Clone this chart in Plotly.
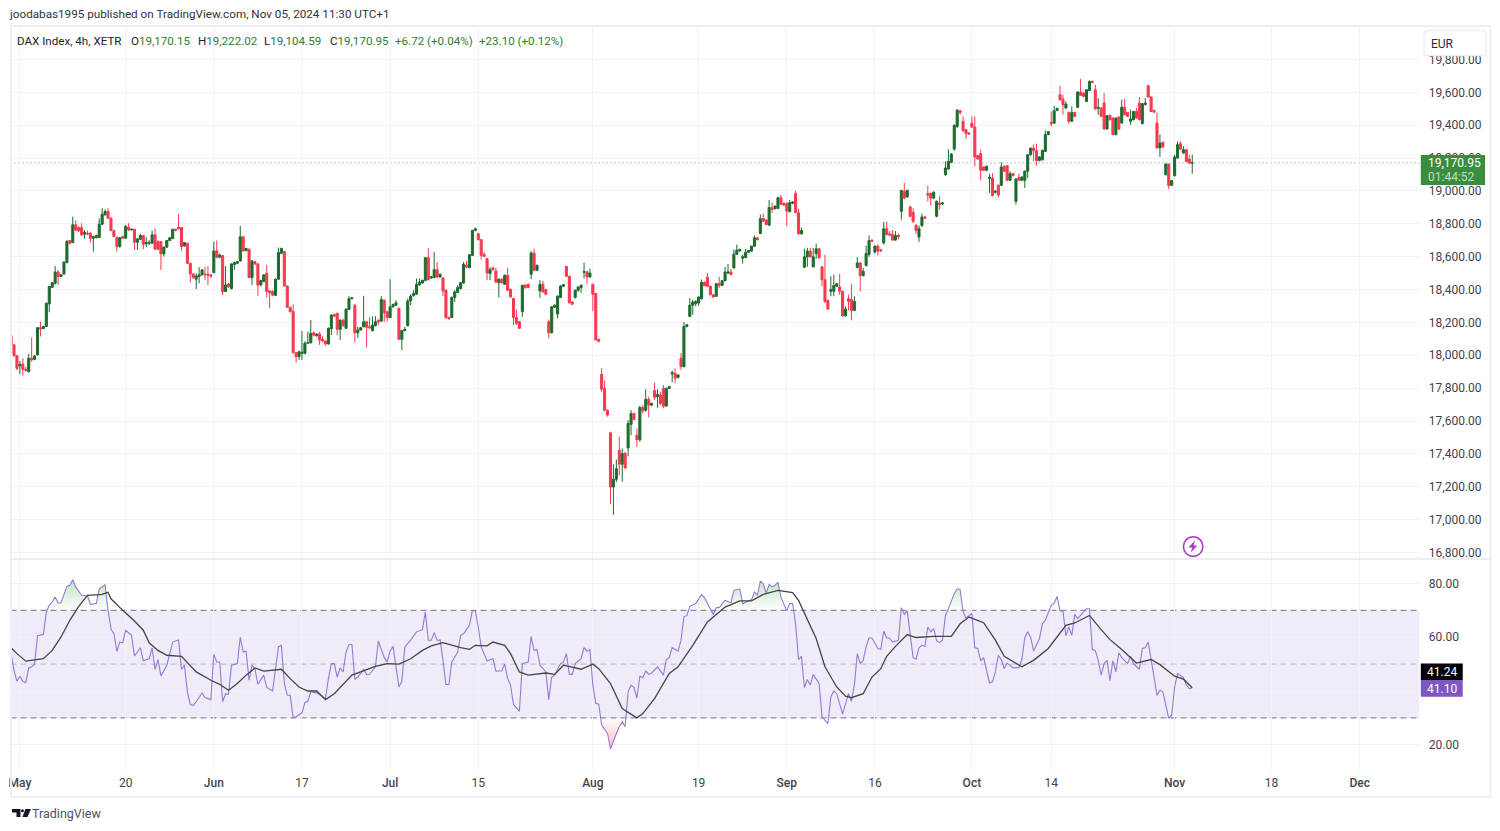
import plotly.graph_objects as go

W, H = 1500, 831

opens = [
18120,18063,17998,17937,17947,17915,17900,17982,17975,18002,
18168,18162,18175,18313,18414,18438,18507,18479,18495,18564,
18698,18686,18794,18777,18777,18737,18743,18743,18712,18717,
18717,18798,18855,18875,18834,18759,18716,18662,18723,18713,
18780,18763,18767,18688,18706,18729,18678,18682,18682,18733,
18692,18692,18617,18658,18698,18710,18767,18780,18777,18666,
18682,18560,18495,18463,18479,18490,18495,18493,18489,18503,
18635,18597,18607,18388,18434,18406,18552,18560,18574,18721,
18637,18645,18473,18570,18556,18428,18449,18499,18392,18388,
18365,18463,18621,18631,18422,18292,18266,18016,17992,18012,
18012,18073,18077,18137,18120,18130,18097,18087,18069,18162,
18249,18255,18158,18214,18164,18279,18345,18305,18137,18154,
18174,18204,18174,18150,18180,18214,18208,18335,18265,18230,
18295,18305,18285,18097,18150,18180,18331,18364,18372,18428,
18440,18456,18594,18470,18473,18521,18477,18471,18396,18230,
18230,18352,18382,18406,18440,18548,18533,18608,18760,18739,
18703,18614,18588,18497,18531,18513,18442,18463,18432,18487,
18402,18345,18230,18204,18265,18428,18432,18493,18622,18517,
18392,18432,18400,18204,18137,18293,18251,18352,18420,18541,
18481,18325,18352,18396,18412,18505,18509,18477,18432,18376,
18097,17884,17799,17666,17528,17198,17245,17422,17337,17402,
17436,17580,17646,17514,17487,17683,17666,17732,17697,17785,
17748,17758,17799,17691,17799,17886,17890,17866,17982,17931,
18175,18237,18304,18314,18318,18344,18444,18475,18420,18369,
18359,18436,18426,18454,18501,18507,18532,18615,18636,18591,
18595,18627,18634,18664,18715,18741,18833,18823,18792,18898,
18892,18894,18959,18925,18925,18874,18925,18986,18868,18739,
18536,18599,18634,18538,18619,18648,18538,18460,18334,18389,
18389,18420,18416,18389,18240,18344,18338,18273,18534,18562,
18485,18546,18613,18701,18628,18664,18642,18684,18770,18739,
18735,18701,18731,18876,18998,18964,18903,18870,18790,18720,
18790,18842,18984,18984,18957,18846,18927,18921,19099,19134,
19174,19255,19393,19488,19424,19373,19353,19413,19389,19215,
19227,19146,19126,19077,19079,18992,19035,19034,19150,19154,
19065,19105,18937,19083,19065,19065,19120,19221,19261,19245,
19186,19190,19241,19343,19418,19413,19490,19586,19559,19505,
19478,19424,19478,19509,19602,19596,19545,19612,19667,19616,
19503,19505,19535,19377,19460,19444,19343,19450,19414,19509,
19478,19424,19434,19484,19535,19410,19527,19641,19572,19490,
19414,19262,19296,19099,19164,19034,19093,19201,19288,19231,
19251,19194,19170.15]

closes = [
18063,17998,17920,17945,17915,17909,17982,17972,17996,18168,
18162,18175,18317,18418,18442,18507,18479,18490,18568,18692,
18682,18794,18763,18759,18733,18747,18739,18712,18722,18729,
18798,18858,18875,18834,18759,18723,18662,18716,18713,18784,
18763,18767,18688,18708,18729,18676,18686,18686,18733,18646,
18646,18617,18658,18698,18715,18767,18760,18770,18662,18686,
18560,18495,18473,18483,18490,18520,18491,18487,18483,18635,
18597,18611,18388,18428,18418,18556,18564,18570,18721,18635,
18650,18473,18574,18556,18428,18455,18489,18388,18382,18367,
18463,18625,18650,18422,18292,18266,18016,17992,18022,18018,
18073,18077,18133,18123,18128,18093,18087,18069,18164,18245,
18238,18158,18214,18180,18281,18345,18350,18137,18154,18168,
18204,18170,18168,18184,18204,18204,18339,18259,18230,18295,
18309,18319,18097,18150,18158,18331,18360,18376,18432,18446,
18456,18594,18461,18477,18521,18477,18493,18392,18228,18224,
18352,18386,18412,18442,18554,18537,18612,18760,18770,18703,
18608,18602,18501,18521,18521,18446,18463,18442,18487,18396,
18356,18230,18194,18164,18426,18412,18412,18622,18517,18547,
18432,18386,18372,18137,18295,18305,18360,18422,18430,18481,
18319,18311,18396,18416,18426,18509,18477,18501,18372,18093,
18085,17793,17666,17636,17198,17245,17310,17337,17402,17314,
17585,17646,17609,17487,17683,17662,17732,17697,17707,17744,
17762,17707,17691,17799,17809,17894,17860,17880,17931,18175,
18186,18304,18324,18328,18355,18444,18424,18420,18369,18355,
18436,18424,18454,18507,18507,18491,18615,18640,18644,18599,
18627,18638,18664,18715,18703,18831,18817,18796,18900,18888,
18908,18959,18919,18914,18878,18929,18933,18868,18739,18760,
18599,18634,18599,18599,18648,18593,18460,18328,18281,18399,
18424,18436,18389,18240,18281,18328,18273,18328,18562,18485,
18511,18619,18699,18695,18664,18634,18636,18770,18735,18731,
18701,18729,18721,19004,18957,19004,18846,18815,18760,18770,
18842,18834,18975,18957,18992,18937,18917,18927,19140,19180,
19225,19400,19491,19478,19367,19349,19347,19389,19207,19195,
19126,19126,19150,19083,18972,18998,18975,19146,19120,19065,
19105,19093,19073,19065,19085,19120,19221,19261,19245,19186,
19207,19247,19343,19361,19409,19488,19503,19555,19525,19529,
19424,19478,19454,19602,19582,19576,19616,19667,19661,19499,
19509,19454,19377,19458,19434,19343,19444,19377,19509,19464,
19454,19438,19484,19444,19434,19531,19535,19572,19484,19480,
19262,19292,19268,19164,19034,19063,19207,19282,19255,19251,
19180,19170,19170.95]

highs = [
18154,18070,18000,17965,17982,17930,18008,18108,18002,18170,
18203,18180,18320,18420,18445,18544,18520,18495,18570,18702,
18702,18844,18820,18785,18804,18763,18760,18750,18725,18735,
18834,18895,18889,18895,18840,18765,18725,18720,18728,18794,
18804,18772,18770,18712,18739,18732,18718,18700,18759,18773,
18700,18695,18662,18700,18720,18770,18770,18861,18780,18690,
18685,18563,18500,18499,18536,18525,18540,18544,18495,18692,
18698,18620,18610,18544,18440,18560,18570,18575,18788,18725,
18655,18650,18580,18575,18560,18460,18493,18550,18395,18395,
18467,18656,18656,18635,18425,18295,18310,18020,18028,18148,
18085,18144,18214,18145,18135,18143,18117,18090,18170,18250,
18252,18260,18218,18220,18285,18360,18355,18310,18174,18173,
18362,18208,18234,18238,18238,18218,18360,18340,18270,18463,
18315,18335,18290,18155,18174,18345,18372,18396,18467,18467,
18460,18598,18653,18482,18628,18568,18497,18475,18400,18236,
18358,18396,18426,18446,18568,18574,18616,18764,18776,18745,
18708,18628,18592,18537,18541,18533,18468,18470,18492,18533,
18405,18350,18279,18210,18430,18432,18436,18634,18648,18552,
18457,18453,18405,18218,18300,18310,18365,18427,18434,18545,
18485,18330,18400,18420,18432,18564,18512,18527,18436,18380,
18100,17921,17846,17670,17535,17337,17365,17504,17432,17412,
17605,17666,17650,17554,17693,17697,17793,17748,17712,17833,
17793,17778,17819,17803,17815,17907,17921,17885,18013,18202,
18190,18348,18338,18335,18358,18461,18450,18501,18425,18372,
18440,18477,18458,18538,18556,18526,18644,18674,18650,18613,
18648,18642,18668,18729,18720,18857,18862,18828,18945,18929,
18912,18965,18976,18930,18930,18945,18938,19000,18892,18776,
18650,18654,18654,18654,18680,18652,18542,18611,18340,18481,
18491,18440,18495,18393,18298,18369,18436,18359,18597,18566,
18532,18668,18729,18705,18670,18674,18648,18811,18813,18756,
18762,18756,18741,19005,19049,19008,18911,18895,18800,18790,
18862,18850,19032,18990,18998,18942,18968,18932,19180,19255,
19230,19405,19499,19495,19454,19378,19358,19454,19454,19220,
19251,19150,19155,19105,19109,19005,19040,19174,19155,19158,
19120,19110,19078,19105,19090,19125,19225,19265,19282,19288,
19212,19252,19369,19365,19484,19519,19507,19640,19586,19545,
19484,19515,19482,19606,19683,19600,19620,19673,19672,19647,
19566,19510,19596,19462,19465,19448,19448,19455,19555,19561,
19482,19495,19488,19505,19572,19535,19566,19647,19576,19495,
19478,19343,19300,19168,19168,19067,19221,19302,19302,19272,
19255,19221,19222.02]

lows = [
18016,17990,17910,17886,17876,17900,17895,17960,17970,18000,
18114,18160,18175,18262,18410,18430,18428,18475,18490,18560,
18675,18684,18755,18750,18725,18710,18730,18686,18631,18710,
18715,18795,18850,18830,18755,18720,18631,18655,18710,18710,
18755,18760,18641,18641,18700,18646,18658,18672,18680,18640,
18640,18520,18601,18655,18695,18708,18755,18765,18637,18660,
18555,18442,18465,18402,18438,18485,18459,18428,18469,18500,
18590,18590,18367,18385,18410,18400,18520,18555,18570,18630,
18632,18470,18428,18550,18361,18420,18445,18351,18286,18360,
18360,18460,18615,18418,18288,18260,18010,17955,17972,17972,
18005,18070,18070,18115,18110,18063,18080,18060,18065,18123,
18235,18123,18093,18175,18160,18275,18340,18079,18107,18150,
18170,18049,18160,18145,18175,18184,18205,18204,18204,18226,
18290,18300,18093,18032,18146,18176,18305,18356,18368,18424,
18435,18450,18455,18465,18470,18470,18472,18360,18225,18215,
18226,18325,18378,18400,18436,18530,18530,18604,18755,18700,
18582,18598,18457,18457,18515,18440,18352,18435,18428,18392,
18350,18184,18184,18160,18234,18405,18408,18463,18512,18512,
18350,18380,18365,18103,18133,18288,18224,18348,18415,18478,
18315,18305,18345,18386,18380,18467,18432,18472,18269,18090,
18078,17778,17660,17626,17096,17029,17229,17269,17229,17310,
17385,17514,17605,17442,17473,17646,17656,17622,17690,17727,
17681,17697,17677,17687,17795,17835,17829,17860,17911,17927,
18170,18232,18247,18298,18302,18340,18420,18415,18365,18350,
18355,18410,18422,18450,18495,18487,18528,18610,18630,18558,
18590,18622,18630,18660,18700,18738,18812,18792,18788,18868,
18888,18890,18915,18910,18786,18870,18920,18865,18735,18735,
18530,18538,18595,18535,18587,18590,18420,18320,18278,18359,
18359,18415,18369,18236,18236,18273,18212,18270,18530,18389,
18480,18542,18599,18690,18619,18607,18630,18674,18730,18728,
18698,18698,18705,18826,18950,18960,18840,18805,18740,18690,
18780,18830,18937,18911,18950,18840,18887,18915,19093,19130,
19170,19245,19383,19464,19360,19318,19343,19385,19150,19190,
19065,19120,19120,18988,18968,18985,18960,19030,19115,19060,
19060,19090,18917,19060,19060,19018,19079,19215,19180,19154,
19180,19185,19237,19340,19395,19408,19485,19550,19464,19500,
19409,19420,19450,19505,19578,19570,19540,19608,19655,19495,
19464,19450,19373,19373,19430,19340,19338,19372,19410,19460,
19450,19403,19430,19440,19430,19405,19520,19568,19480,19475,
19258,19207,19262,19095,19012,19030,19088,19197,19250,19226,
19175,19165,19104.59]

rsi_idx = [
0,1,2,3,4,5,6,7,8,9,11,12,13,14,15,16,17,19,20,21,22,24,26,27,29,30,32,33,34,35,36,37,38,39,41,42,44,45,47,48,49,50,51,53,55,57,58,59,60,61,62,63,65,66,68,69,70,71,72,73,74,75,77,78,79,80,81,82,83,84,86,87,89,91,92,93,94,95,96,97,99,100,101,102,104,106,107,108,109,110,111,112,113,114,115,116,117,118,120,121,122,124,125,127,128,129,130,132,
133,134,136,138,140,141,142,143,144,145,146,147,148,149,150,152,153,154,156,157,158,159,160,162,164,165,167,168,169,170,171,173,174,176,177,178,179,180,182,183,184,185,187,188,189,190,191,192,194,195,196,197,198,199,200,201,203,204,205,206,207,208,209,210,211,212,213,214,215,216,217,218,220,222,223,224,225,227,228,229,230,231,233,235,236,238,239,240,241,243,245,246,248,249,252,253,254,255,256,257,258,259,260,261,262,264,265,266,267,268,
269,270,271,272,273,275,276,278,279,280,281,283,285,286,287,288,289,290,291,292,293,295,296,297,298,299,300,302,303,304,305,307,308,309,310,311,312,313,314,315,316,317,318,319,321,322,323,324,325,327,328,329,330,331,332,333,334,335,336,337,338,339,341,343,344,345,346,347,348,350,351,352,354,355,356,357,358,359,360,361,362,363,364,366,367,368,369,370,371,372,373,374,375,376,377,378,380,381,382,384,385,386,387,388,389,390,391,392,393,394,395,396,397,399,400,401,402]

rsi_val = [
53.9,47.7,43.6,45.5,43.6,43.1,48.6,49,50,60.6,61,69.4,71.9,73.1,75,72.7,72.8,78.9,79.3,81.4,78.7,75.6,75.4,72.2,72.5,78,79.5,70,63,61.3,54.8,58.2,57.9,62.6,60.7,53,56.1,51.2,52,56,48,51.7,45.6,49.6,58.2,59,48,49.6,39.7,35,34.7,36,39.3,37.6,36.8,53.7,50.8,50.8,36,39,38.8,49.6,50.2,60,54.5,54.8,44,49.6,48.3,42.5,45.9,41.3,40,56.4,57,42.8,38.4,38.4,30.1,30.4,31.9,35.7,36.2,39.7,39.3,37.8,37.2,44.6,50.2,50.2,45.2,48.6,47.1,54.5,57.3,57.3,44.3,45.2,48,46.1,46.2,49,58.6,52.4,50.8,54.9,56.6,41.5,
43.5,56.4,58.9,62,62.8,69.4,58.9,58.9,61.7,58.9,59,51.4,42.4,42.4,50.8,54.5,60.7,61.3,64.4,70,69.8,63.8,56.4,51.2,52,47.4,47.5,50,44.6,42.2,35,32.4,50.2,50.8,60.3,55.1,55.4,49.6,47.1,36.8,45.2,45.9,50.2,50.8,53.9,46.2,46.2,50.2,52,56.1,54.8,55.4,42.2,35.4,35.1,27.3,24.2,18.4,21.7,24.2,26.7,28.5,26.7,39.7,42.2,41.3,37.4,45.5,45,47.4,46.2,46.7,49,45.9,51.7,52.4,56.1,54.8,58.9,67.6,68.1,71.5,72.5,75.8,74.7,70.6,68.4,71,71,73.7,72.8,77.4,78,72.5,74,76.8,75.6,80.9,79.9,76.5,79.6,78.7,79.3,80.5,75,69.8,72.5,72.5,65,51.7,
52.9,41.3,44.3,42.2,46.2,42.8,30.4,27.9,37.8,40,39,31.4,39,36.2,42.2,53.9,50.2,51.4,56.4,59.7,59.7,55.8,55.5,62.3,59.7,59.7,58.2,58.9,71,68.5,69.8,52.4,51.8,56.1,57,56.6,63.8,62,63.2,58.6,58,58.9,68.1,70.6,76.2,78,77.8,69.4,67.2,68.8,56.1,55.8,51.2,52.4,47.7,43,43.4,47.1,53.3,51.7,48.3,50.4,48.6,48.7,51.7,59.7,62,60,54.9,59.5,65,66.3,71.9,72.7,75.2,69.8,69.8,60.5,63.8,60.7,68.5,66.9,68.1,70.6,70.6,55.4,55.1,51.4,45.9,50.2,51.4,43.8,51.2,47.1,54.2,52.4,50.2,52.9,50.2,48.1,55.8,56.1,58.2,52.4,45.2,38.4,40.3,39.7,34.1,29.8,31,41.5,46.5,45,42.2,40.9,41.1]

ma_idx = [
0,2,5,11,14,17,20,23,26,31,33,34,38,42,45,47,50,53,58,63,68,71,74,77,80,83,86,92,95,98,101,104,107,110,116,119,122,124,128,132,
136,140,143,147,153,156,158,162,164,168,170,173,176,182,185,188,194,198,200,204,208,213,215,219,224,227,232,237,243,248,252,256,261,266,268,
271,274,277,281,284,286,290,293,296,298,301,305,308,314,320,323,326,331,335,338,344,348,353,359,362,367,371,374,378,383,388,391,396,399,402]

ma_val = [
56.1,53.9,51.1,52,55.1,60.1,66.3,71.5,75.6,75.9,76.7,74.3,70,66,62.6,57.9,55.1,53.3,52.9,47.1,44,42.5,40.3,42.8,45.9,48.6,47.4,48.1,44.6,41.5,40,40,36.8,39,45.9,47.1,48.3,49.2,50.2,50,
52,55.1,56.8,58,56.1,55.5,57,56.8,58.2,57,53.9,47.1,45.9,46.7,46.2,49.6,48.1,50,48.3,42.8,33.5,30,31.6,37.2,46.5,49,57,65.7,71.2,73.5,73.5,75.9,77.4,76.6,73.7,
66.9,59.5,49,41.5,38.1,37.5,39,45.2,48.3,52.9,56.6,61,59.9,60.3,60.3,65,67.5,65.4,58.9,52.9,49,51.4,55.8,64.4,65.3,68.1,62.8,59.1,55.4,50.4,51.7,49.8,45.5,44.4,41.24]

x_tick_idx = [3, 39, 69, 99, 129, 159, 198, 234, 264, 294, 327, 354, 396, 429, 459]
x_tick_labels = ["May", "20", "Jun", "17", "Jul", "15", "Aug", "19", "Sep", "16", "Oct", "14", "Nov", "18", "Dec"]
month_labels = {"May", "Jun", "Jul", "Aug", "Sep", "Oct", "Nov", "Dec"}
price_ticks = [16800, 17000, 17200, 17400, 17600, 17800, 18000, 18200, 18400, 18600, 18800, 19000, 19200, 19400, 19600, 19800]
rsi_ticks = [20, 40, 60, 80]
bar_idx = list(range(len(opens)))
last_close = 19170.95
rsi_last = 41.10
ma_last = 41.24

GREEN = "#1c6b2d"
RED = "#f7394f"
GRID = "#f3f3f6"
TXT = "#3f434e"
FRAME = "#eeeef5"
PURPLE = "#7e57c2"
FONT = "Roboto"


def px(x):
    # the right-hand scale area sits on the page without the left-hand offset
    return (x if x > 1400 else x - 1.5) / W


def py(y):
    return 1 - (y * 1.0025) / H


def crossing_runs(level, above):
    """Outline of the parts of the RSI line beyond a level, for the gradient fill."""
    xs, ys = [], []
    run = []
    test = (lambda v: v > level) if above else (lambda v: v < level)
    pts = list(zip(rsi_idx, rsi_val))
    for k, (xi, vi) in enumerate(pts):
        if test(vi):
            if not run and k > 0:
                x0, v0 = pts[k - 1]
                run.append((x0 + (level - v0) / (vi - v0) * (xi - x0), level))
            run.append((xi, vi))
        elif run:
            x0, v0 = pts[k - 1]
            run.append((x0 + (level - v0) / (vi - v0) * (xi - x0), level))
            xs += [p[0] for p in run] + [None]
            ys += [p[1] for p in run] + [None]
            run = []
    return xs, ys


fig = go.Figure()

fig.add_trace(go.Candlestick(
    x=bar_idx, open=opens, high=highs, low=lows, close=closes,
    increasing=dict(line=dict(color=GREEN, width=1), fillcolor=GREEN),
    decreasing=dict(line=dict(color=RED, width=1), fillcolor=RED),
    whiskerwidth=0, hoverinfo="skip", showlegend=False, xaxis="x", yaxis="y",
))

ox, oy = crossing_runs(70, True)
fig.add_trace(go.Scatter(
    x=ox, y=oy, mode="none", fill="toself", xaxis="x2", yaxis="y2", hoverinfo="skip", showlegend=False,
    fillgradient=dict(type="vertical", start=70, stop=82,
                      colorscale=[[0, "rgba(76,175,80,0)"], [1, "rgba(76,175,80,0.38)"]]),
))
ux, uy = crossing_runs(30, False)
fig.add_trace(go.Scatter(
    x=ux, y=uy, mode="none", fill="toself", xaxis="x2", yaxis="y2", hoverinfo="skip", showlegend=False,
    fillgradient=dict(type="vertical", start=30, stop=18,
                      colorscale=[[0, "rgba(255,82,82,0)"], [1, "rgba(255,82,82,0.42)"]]),
))
fig.add_trace(go.Scatter(
    x=rsi_idx, y=rsi_val, mode="lines", line=dict(color="#9679d6", width=1.1),
    xaxis="x2", yaxis="y2", hoverinfo="skip", showlegend=False,
))
fig.add_trace(go.Scatter(
    x=ma_idx, y=ma_val, mode="lines", line=dict(color="#444444", width=1.3),
    xaxis="x2", yaxis="y2", hoverinfo="skip", showlegend=False,
))

xr = [-0.2, 479.31]
price_range = [16766, 19998]
rsi_range = [10.6, 88.7]

axis_common = dict(
    range=xr, tickmode="array", tickvals=x_tick_idx, showgrid=True, gridcolor=GRID, gridwidth=1,
    zeroline=False, showline=False, fixedrange=True,
)
fig.update_layout(
    width=W, height=H, autosize=False, margin=dict(l=0, r=0, t=0, b=0),
    paper_bgcolor="white", plot_bgcolor="white", showlegend=False,
    font=dict(family=FONT, size=12, color=TXT), boxgap=0,
    xaxis=dict(domain=[px(10), px(1419.3)], anchor="y", showticklabels=False, ticks="",
               rangeslider=dict(visible=False), **axis_common),
    yaxis=dict(domain=[py(558), py(27)], range=price_range, side="right", anchor="x", tickmode="array",
               tickvals=price_ticks, tickformat=",.2f", showgrid=True, gridcolor=GRID, zeroline=False,
               ticks="outside", ticklen=6, tickcolor="rgba(0,0,0,0)", tickfont=dict(size=12, color=TXT),
               fixedrange=True),
    xaxis2=dict(domain=[px(10), px(1419.3)], anchor="y2", ticktext=[
                    f'<span style="font-weight:500;">{t}</span>' if t in month_labels else t for t in x_tick_labels],
                ticks="outside", ticklen=2, tickcolor="rgba(0,0,0,0)", tickfont=dict(size=12, color=TXT),
                **axis_common),
    yaxis2=dict(domain=[py(770), py(560)], range=rsi_range, side="right", anchor="x2", tickmode="array",
                tickvals=rsi_ticks, tickformat=".2f", showgrid=True, gridcolor=GRID, zeroline=False,
                ticks="outside", ticklen=6, tickcolor="rgba(0,0,0,0)", tickfont=dict(size=12, color=TXT),
                fixedrange=True),
)

shapes = [
    # outer frame and pane separator
    dict(type="rect", xref="paper", yref="paper", x0=px(10.5), x1=px(1490.5), y0=py(797), y1=py(26),
         line=dict(color=FRAME, width=2), fillcolor="rgba(0,0,0,0)", layer="above"),
    dict(type="line", xref="paper", yref="paper", x0=px(10.5), x1=px(1490.5), y0=py(559), y1=py(559),
         line=dict(color="#e6e6ee", width=1.5), layer="above"),
    # RSI band
    dict(type="rect", xref="paper", yref="y2", x0=px(10), x1=px(1419.3), y0=30, y1=70,
         fillcolor="rgba(126,87,194,0.12)", line=dict(width=0), layer="below"),
    dict(type="line", xref="paper", yref="y2", x0=px(10), x1=px(1419.3), y0=70, y1=70,
         line=dict(color="#8a8d96", width=1.2, dash="6px,4px"), layer="below"),
    dict(type="line", xref="paper", yref="y2", x0=px(10), x1=px(1419.3), y0=50, y1=50,
         line=dict(color="#c4c4ca", width=1.2, dash="6px,4px"), layer="below"),
    dict(type="line", xref="paper", yref="y2", x0=px(10), x1=px(1419.3), y0=30, y1=30,
         line=dict(color="#8a8d96", width=1.2, dash="6px,4px"), layer="below"),
    # last price line
    dict(type="line", xref="paper", yref="y", x0=px(10), x1=px(1419.3), y0=last_close, y1=last_close,
         line=dict(color="#5fa568", width=1, dash="1px,3px"), layer="below"),
    # EUR button
    dict(type="path", xref="paper", yref="paper", fillcolor="white", line=dict(color="#eeeef5", width=1.5),
         layer="above", path=(
             f"M{px(1427)},{py(30.5)} L{px(1483)},{py(30.5)} Q{px(1486)},{py(30.5)} {px(1486)},{py(33.5)} "
             f"L{px(1486)},{py(52.5)} Q{px(1486)},{py(55.5)} {px(1483)},{py(55.5)} L{px(1427)},{py(55.5)} "
             f"Q{px(1424)},{py(55.5)} {px(1424)},{py(52.5)} L{px(1424)},{py(33.5)} "
             f"Q{px(1424)},{py(30.5)} {px(1427)},{py(30.5)} Z")),
    # value boxes on the scales
    dict(type="rect", xref="paper", yref="paper", x0=px(1420.7), x1=px(1485), y0=py(185), y1=py(155),
         fillcolor="#388e3c", line=dict(width=0), layer="above"),
    dict(type="rect", xref="paper", yref="paper", x0=px(1420.7), x1=px(1462.7), y0=py(680), y1=py(663.5),
         fillcolor="#000000", line=dict(width=0), layer="above"),
    dict(type="rect", xref="paper", yref="paper", x0=px(1420.7), x1=px(1462.7), y0=py(696.7), y1=py(680),
         fillcolor=PURPLE, line=dict(width=0), layer="above"),
    # lightning badge
    dict(type="circle", xref="paper", yref="paper", x0=px(1184.5), x1=px(1204), y0=py(556.3), y1=py(536.7),
         line=dict(color="#ab3fc4", width=1.6), fillcolor="white", layer="above"),
    dict(type="path", xref="paper", yref="paper", fillcolor="#ab3fc4", line=dict(width=0), layer="above",
         path=(f"M{px(1196)},{py(540.5)} L{px(1189.5)},{py(547.5)} L{px(1193.2)},{py(547.5)} "
               f"L{px(1192)},{py(552.5)} L{px(1198.5)},{py(545.5)} L{px(1194.8)},{py(545.5)} Z")),
    # TradingView mark
    dict(type="path", xref="paper", yref="paper", fillcolor="#131722", line=dict(width=0), layer="above",
         path=(f"M{px(11.5)},{py(809)} L{px(20)},{py(809)} L{px(20)},{py(817)} L{px(16)},{py(817)} "
               f"L{px(16)},{py(812.5)} L{px(11.5)},{py(812.5)} Z")),
    dict(type="circle", xref="paper", yref="paper", x0=px(20.5), x1=px(23.5), y0=py(812.3), y1=py(809.3),
         fillcolor="#131722", line=dict(width=0), layer="above"),
    dict(type="path", xref="paper", yref="paper", fillcolor="#131722", line=dict(width=0), layer="above",
         path=(f"M{px(25)},{py(809)} L{px(30.5)},{py(809)} L{px(27)},{py(817)} L{px(22)},{py(817)} Z")),
]
fig.update_layout(shapes=shapes)


def label(x, y, text, color=TXT, size=12, anchor="left"):
    return dict(xref="paper", yref="paper", x=px(x - 2), y=py(y), text=text, showarrow=False,
                xanchor=anchor, yanchor="middle", align=anchor, font=dict(family=FONT, size=size, color=color),
                borderpad=0)


VAL = "#2e7d32"
anns = [
    label(10, 14, "joodabas1995 published on TradingView.com, Nov 05, 2024 11:30 UTC+1", "#30333c", 11.7),
    label(18, 41, "DAX Index, 4h, XETR", "#1e222d", 11.6),
    label(132, 41, f'<span style="color:#1e222d">O</span>19,170.15', VAL, 11.6),
    label(199, 41, f'<span style="color:#1e222d">H</span>19,222.02', VAL, 11.6),
    label(265, 41, f'<span style="color:#1e222d">L</span>19,104.59', VAL, 11.6),
    label(331, 41, f'<span style="color:#1e222d">C</span>19,170.95', VAL, 11.6),
    label(396, 41, "+6.72 (+0.04%)", VAL, 11.6),
    label(480, 41, "+23.10 (+0.12%)", VAL, 11.6),
    label(1432, 43.5, "EUR", "#2a2e39", 12),
    label(1429, 162.5, "19,170.95", "#ffffff", 12),
    label(1429, 176.5, "01:44:52", "rgba(255,255,255,0.72)", 12),
    label(1428, 672, f"{ma_last:.2f}", "#ffffff", 12),
    label(1428, 688.5, f"{rsi_last:.2f}", "#ffffff", 12),
    label(33, 813.5, "TradingView", "#50535e", 12.5),
]
fig.update_layout(annotations=anns)

fig.write_html("out.html", config={"displayModeBar": False, "responsive": False},
               post_script="document.body.style.margin='0';document.body.style.overflow='hidden';")
